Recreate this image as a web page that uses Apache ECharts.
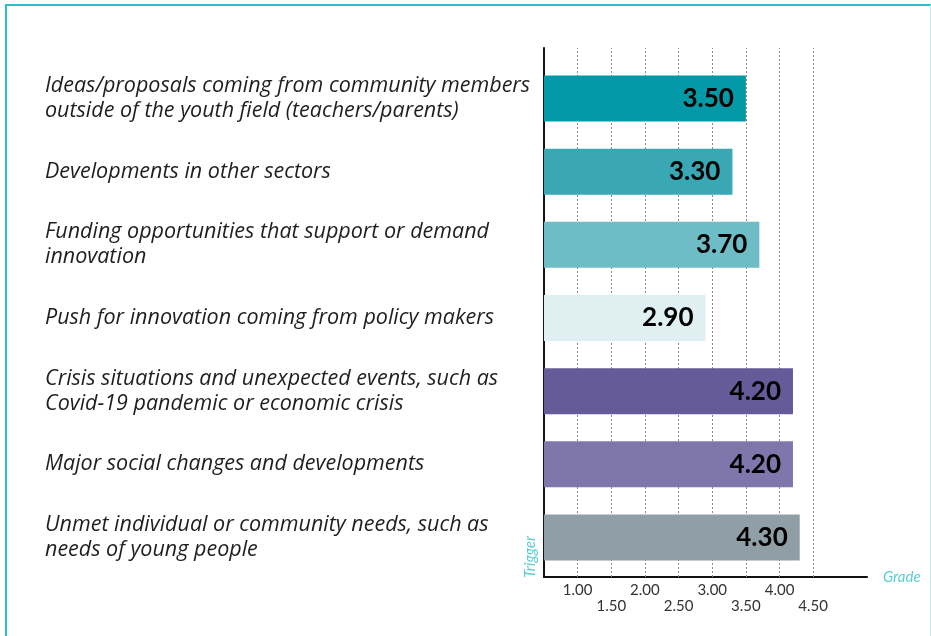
<!DOCTYPE html>
<html>
<head>
<meta charset="utf-8">
<style>
  html, body { margin: 0; padding: 0; background: #ffffff; }
  #wrap { position: relative; width: 931px; height: 636px; overflow: hidden; }
  #frame {
    position: absolute; left: 5px; top: 4px; width: 923px; height: 700px;
    border-top: 2px solid #2bbfc7; border-left: 2px solid #2bbfc7;
    border-right: 1px solid #b9ebef;
  }
  #chart { position: absolute; left: 0; top: 0; width: 931px; height: 636px; }
</style>
<script src="https://cdn.jsdelivr.net/npm/echarts@6/dist/echarts.min.js"></script>
</head>
<body>
<div id="wrap">
  <div id="frame"></div>
  <div id="chart"></div>
</div>
<script>
// Triggers for innovation, listed top to bottom
const triggers = [
  'Ideas/proposals coming from community members\noutside of the youth field (teachers/parents)',
  'Developments in other sectors',
  'Funding opportunities that support or demand\ninnovation',
  'Push for innovation coming from policy makers',
  'Crisis situations and unexpected events, such as\nCovid-19 pandemic or economic crisis',
  'Major social changes and developments',
  'Unmet individual or community needs, such as\nneeds of young people'
];
// Average grade per trigger
const grades = [3.50, 3.30, 3.70, 2.90, 4.20, 4.20, 4.30];
// Fill colour per bar
const barColors = ['#0399a7', '#3aa7b4', '#6ebcc5', '#dfeff2', '#655b99', '#7f76ac', '#909fa5'];
// Grade ticks shown on the horizontal axis
const gradeTicks = [1.00, 1.50, 2.00, 2.50, 3.00, 3.50, 4.00, 4.50];

const FONT = 'Lato, "Open Sans", sans-serif';
const LABEL_FONT = '"Open Sans", Lato, sans-serif';
const AXIS_MIN = 0.5;
const AXIS_MAX = 5.3;

const chart = echarts.init(document.getElementById('chart'), null, { renderer: 'canvas' });

chart.setOption({
  animation: false,
  grid: [
    // frame grid: axis lines, dotted gridlines, tick labels
    { left: 544, right: 64, top: 48, bottom: 59 },
    // bar grid
    { left: 544, right: 64, top: 62, bottom: 62 }
  ],
  xAxis: [
    {
      gridIndex: 0,
      type: 'value',
      min: AXIS_MIN,
      max: AXIS_MAX,
      interval: 0.5,
      name: 'Grade',
      nameLocation: 'end',
      nameGap: 16,
      nameTextStyle: { color: '#5ccdd5', fontStyle: 'italic', fontSize: 15, fontFamily: FONT },
      axisLine: { show: true, lineStyle: { color: '#111', width: 2 } },
      splitLine: { show: false },
      axisTick: {
        show: true,
        inside: true,
        length: 529,
        customValues: gradeTicks,
        lineStyle: { color: '#8a8a8a', width: 1, type: [2, 2] }
      },
      axisLabel: {
        customValues: gradeTicks,
        margin: 5,
        color: '#333',
        fontSize: 15,
        fontFamily: FONT,
        lineHeight: 16,
        formatter: function (v) {
          const i = Math.round((v - gradeTicks[0]) / 0.5);
          const s = Number(v).toFixed(2);
          return i % 2 === 1 ? '\n' + s : s;
        }
      }
    },
    {
      gridIndex: 1,
      type: 'value',
      min: AXIS_MIN,
      max: AXIS_MAX,
      show: false,
      splitLine: { show: false }
    }
  ],
  yAxis: [
    {
      gridIndex: 0,
      type: 'category',
      data: triggers,
      inverse: true,
      name: 'Trigger',
      nameLocation: 'end',
      nameGap: 1,
      nameRotate: 90,
      nameTextStyle: {
        color: '#5ccdd5', fontStyle: 'italic', fontSize: 15, fontFamily: FONT,
        align: 'left', verticalAlign: 'bottom', padding: [0, 0, 6, 0]
      },
      axisLine: { show: true, lineStyle: { color: '#111', width: 2 } },
      axisTick: { show: false },
      axisLabel: { show: false },
      splitLine: { show: false }
    },
    {
      gridIndex: 1,
      type: 'category',
      data: triggers,
      inverse: true,
      axisLine: { show: false },
      axisTick: { show: false },
      splitLine: { show: false },
      axisLabel: {
        align: 'left',
        margin: 499,
        color: '#1f1f1f',
        fontStyle: 'italic',
        fontSize: 21.5,
        lineHeight: 25,
        fontFamily: LABEL_FONT
      }
    }
  ],
  series: [
    {
      type: 'bar',
      xAxisIndex: 1,
      yAxisIndex: 1,
      data: grades.map((g, i) => ({ value: g, itemStyle: { color: barColors[i] } })),
      barWidth: 46,
      clip: true,
      label: {
        show: true,
        position: 'insideRight',
        distance: 12,
        color: '#000',
        fontWeight: 'bold',
        fontSize: 26,
        fontFamily: FONT,
        formatter: p => Number(p.value).toFixed(2)
      }
    }
  ]
});
</script>
</body>
</html>
